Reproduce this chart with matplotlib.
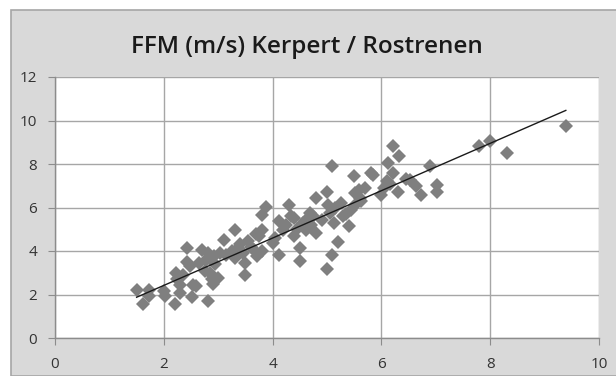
import matplotlib
matplotlib.use("Agg")
import matplotlib.pyplot as plt
from matplotlib.patches import Rectangle
import numpy as np

title = "FFM (m/s) Kerpert / Rostrenen"

kerpert = [1.50, 1.62, 1.72, 1.72, 2.00, 2.02, 2.20, 2.22, 2.30, 2.30, 2.42, 2.42,
           2.51, 2.54, 2.60, 2.64, 2.70, 2.82, 2.82, 2.85, 2.90, 2.92, 3.00, 3.03,
           3.10, 3.30, 3.30, 3.36, 3.50, 3.50, 3.54, 3.65, 3.72, 3.75, 3.81, 3.81,
           3.88, 3.81, 4.00, 4.12, 4.12, 4.19, 4.30, 4.33, 4.39, 4.51, 4.51, 4.62,
           4.69, 4.80, 4.80, 4.91, 5.00, 5.00, 5.10, 5.10, 5.05, 5.12, 5.20, 5.30,
           5.41, 5.50, 5.52, 5.52, 5.60, 5.70, 5.80, 6.00, 6.10, 6.12, 6.21, 6.21,
           6.30, 6.32, 6.53, 6.64, 6.72, 6.90, 7.02, 7.02, 7.80, 8.00, 8.30, 9.39,
           2.25, 2.35, 2.48, 2.75, 2.78, 2.95, 3.25, 3.40, 3.45, 3.60, 3.70, 4.05,
           4.25, 4.40, 4.45, 4.55, 4.70, 4.75, 5.02, 5.15, 5.35, 5.45, 5.58, 5.62,
           5.85, 6.05, 6.15, 6.45, 2.88, 3.15, 4.60, 5.25]
rostrenen = [2.20, 1.55, 2.20, 1.95, 2.15, 1.95, 1.55, 3.00, 2.45, 2.07, 4.14, 3.50,
             1.87, 2.45, 2.40, 3.45, 4.05, 1.72, 3.90, 3.00, 2.50, 3.75, 2.76, 3.90,
             4.52, 4.98, 3.68, 4.14, 2.91, 3.45, 4.44, 4.06, 3.75, 4.67, 4.98, 5.67,
             6.02, 3.98, 4.37, 5.36, 3.83, 4.98, 6.13, 5.60, 4.67, 4.14, 3.52, 4.98,
             5.75, 6.44, 4.83, 5.44, 6.70, 3.17, 7.92, 3.83, 5.75, 5.29, 4.40, 5.60,
             5.13, 7.43, 6.67, 6.13, 6.44, 6.90, 7.59, 6.59, 7.20, 8.05, 8.81, 7.59,
             6.70, 8.35, 7.28, 6.97, 6.59, 7.89, 7.05, 6.70, 8.81, 9.04, 8.50, 9.76,
             2.70, 2.90, 3.30, 3.10, 3.60, 3.40, 4.00, 4.30, 3.90, 4.20, 4.80, 4.60,
             5.20, 5.50, 5.00, 5.30, 5.20, 5.60, 6.10, 6.00, 5.70, 5.90, 6.80, 6.30,
             7.50, 6.90, 7.10, 7.30, 2.70, 3.80, 5.40, 6.20]

x_ticks = [0, 2, 4, 6, 8, 10]
y_ticks = [0, 2, 4, 6, 8, 10, 12]

W, H = 616, 376
fig = plt.figure(figsize=(W / 100, H / 100), dpi=100)
fig.patch.set_facecolor("white")

# chart area background with border
bg = Rectangle((11 / W, 0), 1.0, 1 - 9.5 / H, transform=fig.transFigure,
               facecolor="#d9d9d9", edgecolor="#a6a6a6", linewidth=1.2, zorder=-10)
fig.add_artist(bg)

ax = fig.add_axes([55 / W, (H - 338) / H, (599 - 55) / W, (338 - 77) / H])
ax.set_zorder(5)
ax.set_facecolor("white")
ax.set_xlim(0, 10)
ax.set_ylim(0, 12)
ax.set_xticks(x_ticks)
ax.set_yticks(y_ticks)
ax.grid(True, color="#a6a6a6", linewidth=1.0)
ax.set_axisbelow(True)
for s in ["top", "right"]:
    ax.spines[s].set_visible(False)
for s in ["left", "bottom"]:
    ax.spines[s].set_color("#8c8c8c")
    ax.spines[s].set_linewidth(1.0)
ax.tick_params(direction="out", length=5, color="#8c8c8c", labelsize=11,
               labelcolor="#333333")
ax.tick_params(axis="x", pad=9)
ax.tick_params(axis="y", pad=8)
for lab in ax.get_xticklabels() + ax.get_yticklabels():
    lab.set_family("Open Sans")

x = np.array(kerpert)
y = np.array(rostrenen)
ax.plot(x, y, linestyle="none", marker="D", markersize=7.3, color="#7f7f7f",
        markeredgewidth=0, zorder=3, clip_on=False)

coef = np.polyfit(x, y, 1)
xl = np.array([x.min(), x.max()])
ax.plot(xl, np.polyval(coef, xl), color="#1a1a1a", linewidth=1.0, zorder=4)

fig.text(307 / W, 1 - 47 / H, title, ha="center", va="center", fontsize=17.5,
         color="#1a1a1a", family="Open Sans", weight="semibold")

fig.savefig("out.png", dpi=100)
